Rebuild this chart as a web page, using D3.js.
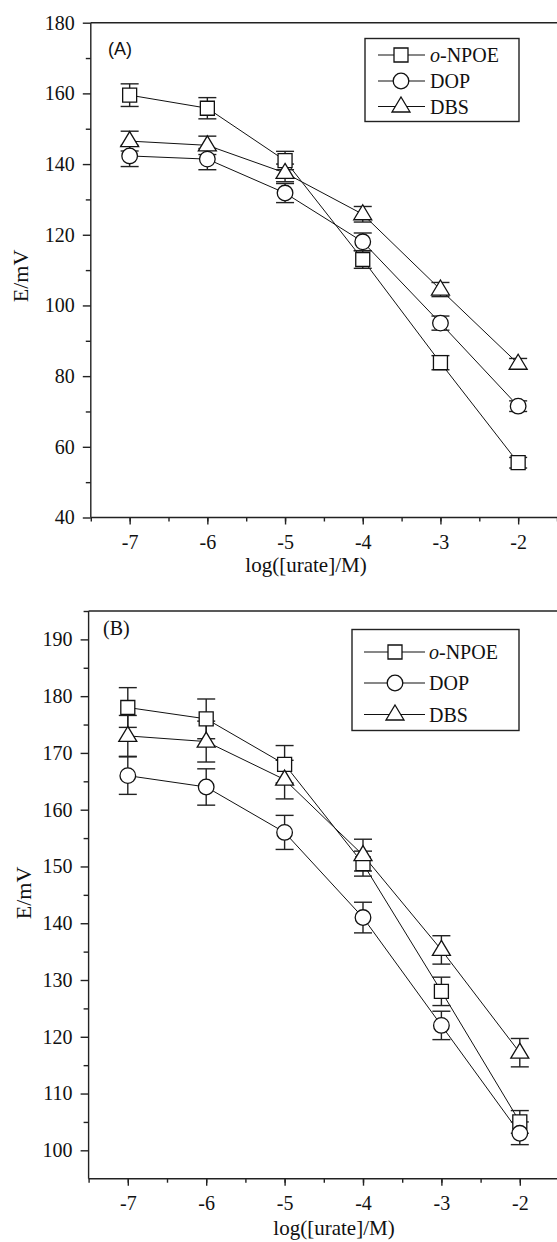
<!DOCTYPE html>
<html>
<head>
<meta charset="utf-8">
<script src="https://cdn.jsdelivr.net/npm/d3@7"></script>
<style>
  body { margin: 0; background: #fff; }
  svg { display: block; }
  text { font-family: "Liberation Serif", "Times New Roman", serif; fill: #111; }
  .axis path, .axis line { stroke: #222; stroke-width: 1.4; }
</style>
</head>
<body>
<div id="chart"></div>
<script>
// x positions (log concentration)
const LOG_C = [-7, -6, -5, -4, -3, -2];
const X_TICKS = [-7, -6, -5, -4, -3, -2];
const SERIES_NAMES = ["o-NPOE", "DOP", "DBS"];

// panel A
const A_NPOE = [159.5, 155.8, 141.0, 113.0, 83.8, 55.5];
const A_NPOE_ERR = [3.2, 3.0, 2.6, 2.5, 2.0, 1.5];
const A_DOP = [142.3, 141.4, 131.8, 118.0, 95.0, 71.5];
const A_DOP_ERR = [3.0, 3.0, 2.7, 2.5, 2.0, 1.5];
const A_DBS = [146.5, 145.3, 137.5, 125.8, 104.5, 83.5];
const A_DBS_ERR = [2.8, 2.6, 2.5, 2.2, 2.0, 1.5];
const A_Y_TICKS = [40, 60, 80, 100, 120, 140, 160, 180];

// panel B
const B_NPOE = [178.0, 176.0, 168.0, 150.5, 128.0, 105.0];
const B_NPOE_ERR = [3.5, 3.5, 3.3, 2.2, 2.5, 2.0];
const B_DOP = [166.0, 164.0, 156.0, 141.0, 122.0, 103.0];
const B_DOP_ERR = [3.3, 3.2, 3.0, 2.7, 2.5, 2.0];
const B_DBS = [173.0, 172.0, 165.3, 152.0, 135.3, 117.2];
const B_DBS_ERR = [3.6, 3.6, 3.4, 2.8, 2.5, 2.5];
const B_Y_TICKS = [100, 110, 120, 130, 140, 150, 160, 170, 180, 190];

const W = 557, H = 1242;

const svg = d3.select("#chart").append("svg")
    .attr("width", W)
    .attr("height", H);

// marker paths, centred on 0,0
const marker_path = (shape) => {
  if (shape == "square") return "M-7,-7H7V7H-7Z";
  if (shape == "circle") return "M7.8,0A7.8,7.8 0 1,1 -7.8,0A7.8,7.8 0 1,1 7.8,0Z";
  return "M0,-9.5L9,5.5L-9,5.5Z";
};

const SHAPES = ["square", "circle", "triangle"];

const draw_panel = (p) => {
  const g = svg.append("g");
  const x = d3.scaleLinear().domain([-7.5, -1.5]).range([p.left, p.left + 6 * p.unit]);
  const y = d3.scaleLinear().domain(p.ydom).range([p.bottom, p.top]);

  // frame top
  g.append("line")
      .attr("x1", p.left).attr("x2", W)
      .attr("y1", p.top).attr("y2", p.top)
      .style("stroke", "#222").style("stroke-width", 1.4);

  // x axis
  g.append("g")
      .attr("class", "axis")
      .attr("transform", "translate(0," + p.bottom + ")")
      .call(d3.axisBottom(x).tickValues(d3.range(-7.5, -1.4, 0.5)).tickSize(4).tickFormat(""))
      .call(a => a.select(".domain").remove());
  g.append("g")
      .attr("class", "axis")
      .attr("transform", "translate(0," + p.bottom + ")")
      .call(d3.axisBottom(x).tickValues(X_TICKS).tickSize(7).tickPadding(10)
            .tickFormat(d => "-" + Math.abs(d)))
      .call(a => a.selectAll("text").style("font-size", "20px")
            .style("font-family", "Liberation Serif"))
      .call(a => a.select(".domain").attr("d", "M" + p.left + ",0H" + W));

  // y axis
  g.append("g")
      .attr("class", "axis")
      .attr("transform", "translate(" + p.left + ",0)")
      .call(d3.axisLeft(y).tickValues(p.yminor).tickSize(5).tickFormat(""))
      .call(a => a.select(".domain").remove());
  g.append("g")
      .attr("class", "axis")
      .attr("transform", "translate(" + p.left + ",0)")
      .call(d3.axisLeft(y).tickValues(p.yticks).tickSize(8).tickPadding(8))
      .call(a => a.selectAll("text").style("font-size", "20px")
            .style("font-family", "Liberation Serif"))
      .call(a => a.select(".domain").attr("d", "M0," + p.top + "V" + p.bottom));

  // axis titles
  g.append("text")
      .attr("x", p.xtitle_x)
      .attr("y", p.xtitle_y)
      .style("text-anchor", "middle")
      .style("font-size", "21px")
      .text("log([urate]/M)");

  g.append("text")
      .attr("transform", "translate(" + p.ytitle_x + "," + p.ytitle_y + ") rotate(-90)")
      .style("text-anchor", "middle")
      .style("font-size", "22px")
      .text("E/mV");

  // panel tag
  g.append("text")
      .attr("x", p.tag_x).attr("y", p.tag_y)
      .style("font-size", p.tag_size)
      .style("font-family", p.tag_font)
      .text(p.tag);

  // connecting lines
  const line = d3.line().x((d, i) => x(LOG_C[i])).y(d => y(d));
  p.series.forEach(s => {
    g.append("path")
        .attr("d", line(s.vals))
        .style("fill", "none")
        .style("stroke", "#111")
        .style("stroke-width", 1);
  });

  // error bars
  p.series.forEach(s => {
    s.vals.forEach((v, i) => {
      const cx = x(LOG_C[i]);
      const e = s.err[i];
      const eb = g.append("g").style("stroke", "#222").style("stroke-width", 1.4);
      eb.append("line").attr("x1", cx).attr("x2", cx).attr("y1", y(v - e)).attr("y2", y(v + e));
      [v - e, v + e].forEach(t => {
        eb.append("line").attr("x1", cx - 9).attr("x2", cx + 9).attr("y1", y(t)).attr("y2", y(t));
      });
    });
  });

  // markers
  p.series.forEach((s, k) => {
    g.selectAll(null)
        .data(s.vals)
        .enter().append("path")
        .attr("transform", (d, i) => "translate(" + x(LOG_C[i]) + "," + y(d) + ")")
        .attr("d", marker_path(SHAPES[k]))
        .style("fill", "#fff")
        .style("stroke", "#111")
        .style("stroke-width", 1.3);
  });

  // legend
  const lg = g.append("g");
  lg.append("rect")
      .attr("x", p.leg.x).attr("y", p.leg.y)
      .attr("width", p.leg.w).attr("height", p.leg.h)
      .style("fill", "#fff").style("stroke", "#222").style("stroke-width", 1.4);
  SERIES_NAMES.forEach((name, k) => {
    const ly = p.leg.rows[k];
    lg.append("line")
        .attr("x1", p.leg.lx1).attr("x2", p.leg.lx2)
        .attr("y1", ly).attr("y2", ly)
        .style("stroke", "#111").style("stroke-width", 1.2);
    lg.append("path")
        .attr("transform", "translate(" + p.leg.mx + "," + ly + ")")
        .attr("d", marker_path(SHAPES[k]))
        .style("fill", "#fff").style("stroke", "#111").style("stroke-width", 1.3);
    const t = lg.append("text")
        .attr("x", p.leg.tx).attr("y", ly + 7)
        .style("font-size", "20px");
    if (k == 0) {
      t.append("tspan").style("font-style", "italic").text("o");
      t.append("tspan").text("-NPOE");
    } else {
      t.text(name);
    }
  });
};

draw_panel({
  left: 90.8, top: 22.7, bottom: 517.5, unit: 77.7,
  ydom: [40, 180],
  yticks: A_Y_TICKS,
  yminor: d3.range(50, 180, 20),
  xtitle_x: 306, xtitle_y: 571.5,
  ytitle_x: 28, ytitle_y: 276,
  tag: "(A)", tag_x: 108, tag_y: 55, tag_font: "Liberation Sans", tag_size: "18px",
  series: [
    {vals: A_NPOE, err: A_NPOE_ERR},
    {vals: A_DOP, err: A_DOP_ERR},
    {vals: A_DBS, err: A_DBS_ERR}
  ],
  leg: {x: 365, y: 38.5, w: 154, h: 83, rows: [55, 81, 106.5],
        lx1: 378, lx2: 425, mx: 401, tx: 430}
});

draw_panel({
  left: 88.6, top: 611, bottom: 1178.7, unit: 78.4,
  ydom: [95, 195],
  yticks: B_Y_TICKS,
  yminor: d3.range(105, 196, 10),
  xtitle_x: 334, xtitle_y: 1235,
  ytitle_x: 31, ytitle_y: 893,
  tag: "(B)", tag_x: 103, tag_y: 635, tag_font: "Liberation Serif", tag_size: "20px",
  series: [
    {vals: B_NPOE, err: B_NPOE_ERR},
    {vals: B_DOP, err: B_DOP_ERR},
    {vals: B_DBS, err: B_DBS_ERR}
  ],
  leg: {x: 352, y: 629.5, w: 167, h: 101, rows: [652, 683, 714.5],
        lx1: 364, lx2: 425, mx: 395, tx: 429}
});
</script>
</body>
</html>
